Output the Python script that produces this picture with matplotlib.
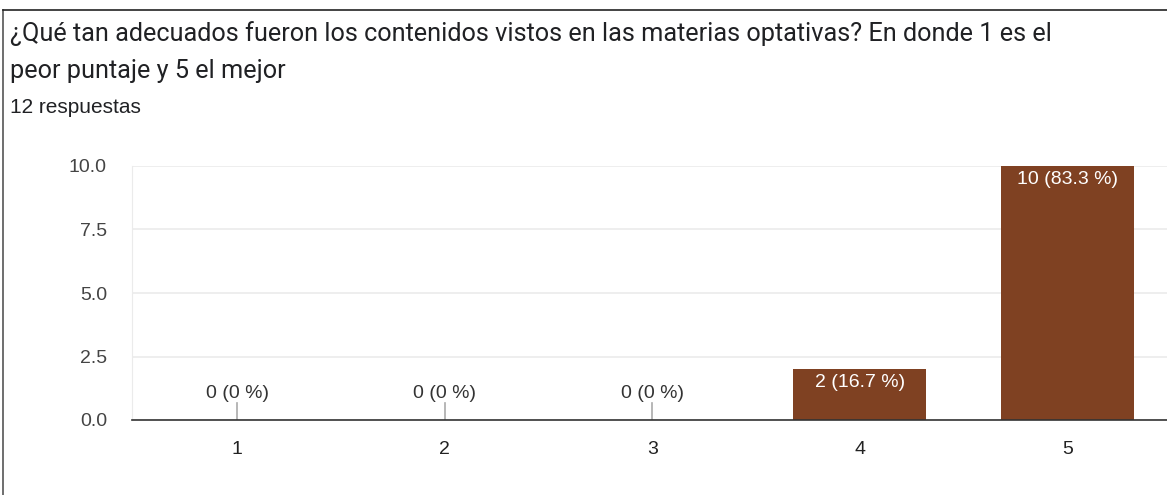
import matplotlib.pyplot as plt
from matplotlib.lines import Line2D

categories = [1, 2, 3, 4, 5]
counts = [0, 0, 0, 2, 10]
percents = ["0 %", "0 %", "0 %", "16.7 %", "83.3 %"]
title = ("¿Qué tan adecuados fueron los contenidos vistos en las materias optativas? "
         "En donde 1 es el\npeor puntaje y 5 el mejor")
subtitle = "12 respuestas"
yticks = [0.0, 2.5, 5.0, 7.5, 10.0]

plt.rcParams['font.family'] = ['Liberation Sans', 'DejaVu Sans']

W, H = 1167, 495
fig = plt.figure(figsize=(W / 100, H / 100), dpi=100)

# outer card border (left and top only visible)
fig.add_artist(Line2D([3 / W, 3 / W], [0, 1 - 10 / H], color='#555555', lw=1.2))
fig.add_artist(Line2D([3 / W, 1], [1 - 10 / H, 1 - 10 / H], color='#222222', lw=1.2))

fig.text(10 / W, 1 - 21 / H, title, ha='left', va='top', fontsize=18.2,
         color='#202124', linespacing=1.7, family=['Roboto', 'DejaVu Sans'])
fig.text(10 / W, 1 - 107 / H, subtitle, ha='left', va='center', fontsize=15,
         color='#202124')

ax = fig.add_axes([132 / W, 75 / H, (W - 132) / W, 254 / H])
bar_color = '#7f4122'
ax.bar(categories, counts, width=0.64, color=bar_color, zorder=3)

for x, c, p in zip(categories, counts, percents):
    label = f"{c} ({p})"
    if c == 0:
        ax.plot([x, x], [0, 0.65], color='#aaaaaa', lw=1.2, zorder=3)
        ax.text(x, 0.72, label, ha='center', va='bottom', fontsize=14, color='#333333')
    else:
        ax.text(x, c - 0.2, label, ha='center', va='top', fontsize=14, color='white', zorder=4)

ax.set_xlim(0.494, 5.48)
ax.set_ylim(0, 10)
ax.set_yticks(yticks)
ax.set_yticklabels([f"{v:.1f}" for v in yticks])
ax.set_xticks(categories)
ax.tick_params(axis='both', length=0, labelsize=14, colors='#444444')
ax.tick_params(axis='x', pad=15, colors='#222222')
ax.tick_params(axis='y', pad=18)
ax.grid(axis='y', color='#ebebeb', lw=1.2, zorder=0)
ax.set_axisbelow(True)
for s in ['top', 'right']:
    ax.spines[s].set_visible(False)
ax.spines['left'].set_color('#ebebeb')
ax.spines['bottom'].set_color('#333333')
ax.spines['bottom'].set_linewidth(1.2)
ax.spines['bottom'].set_zorder(5)

fig.savefig('out.png', dpi=100)
